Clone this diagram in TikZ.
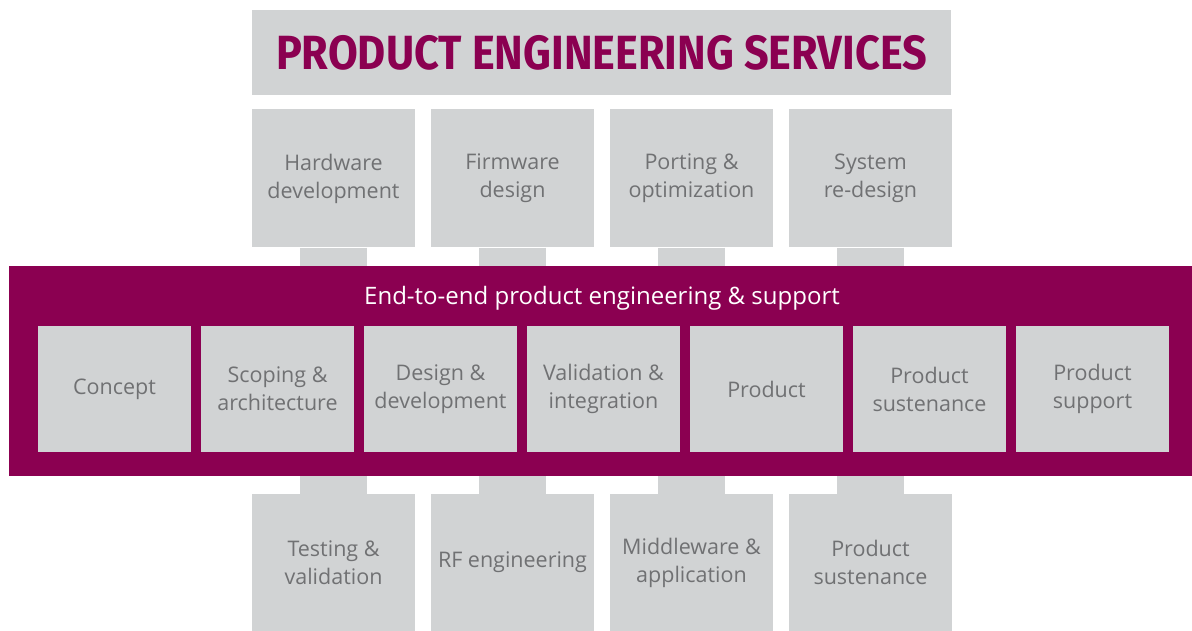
\documentclass[tikz,border=0pt]{standalone}
\usepackage{fontspec}
\setmainfont{Open Sans}
\newfontfamily\headfont{Fira Sans}
\definecolor{pesgray}{HTML}{D1D3D4}
\definecolor{pesplum}{HTML}{8B0051}
\definecolor{pestext}{HTML}{707173}
\tikzset{
	svcbox/.style={fill=pesgray, minimum width=163pt, minimum height=138pt, inner sep=0pt, align=center, text=pestext, font=\fontsize{21.5}{28}\selectfont},
	stagebox/.style={svcbox, minimum width=153pt, minimum height=126pt},
	tab/.style={draw=pesgray, line width=67pt},
}
\begin{document}
\begin{tikzpicture}[x=1pt, y=-1pt]
	\useasboundingbox (0,0) rectangle (1192,631);
	\node[fill=pesgray, minimum width=699pt, minimum height=85pt, inner sep=0pt, text=pesplum] (title) at (601.5,52.5)
		{\headfont\bfseries\fontsize{48}{48}\selectfont\scalebox{0.9}[1]{PRODUCT ENGINEERING SERVICES}};
	\node[fill=pesplum, minimum width=1183pt, minimum height=210pt, inner sep=0pt] (band) at (600.5,371) {};
	\node[text=white, font=\fontsize{24}{28}\selectfont] (bandtitle) at (602,298) {End-to-end product engineering \& support};
	% services above the band
	\foreach \name/\label [count=\i from 0] in {hw/Hardware\\development, fw/Firmware\\design, port/Porting \&\\optimization, sys/System\\re-design}
	{
		\node[svcbox] (\name) at (333.5+179*\i,178.5) {\label};
		\draw[tab] (\name.south) -- (\name.south |- band.north);
	}
	% services below the band
	\foreach \name/\label [count=\i from 0] in {test/Testing \&\\validation, rf/RF engineering, mid/Middleware \&\\application, sust/Product\\sustenance}
	{
		\node[svcbox, minimum height=137pt] (\name) at (333.5+179*\i,562.5) {\label};
		\draw[tab] (\name.north) -- (\name.north |- band.south);
	}
	% stages inside the band
	\foreach \name/\label [count=\i from 0] in {concept/Concept, scope/Scoping \&\\architecture, design/Design \&\\development, valid/Validation \&\\integration, prod/Product, psust/Product\\sustenance, psup/Product\\support}
		\node[stagebox] (\name) at (114.5+163*\i,389) {\label};
\end{tikzpicture}
\end{document}
